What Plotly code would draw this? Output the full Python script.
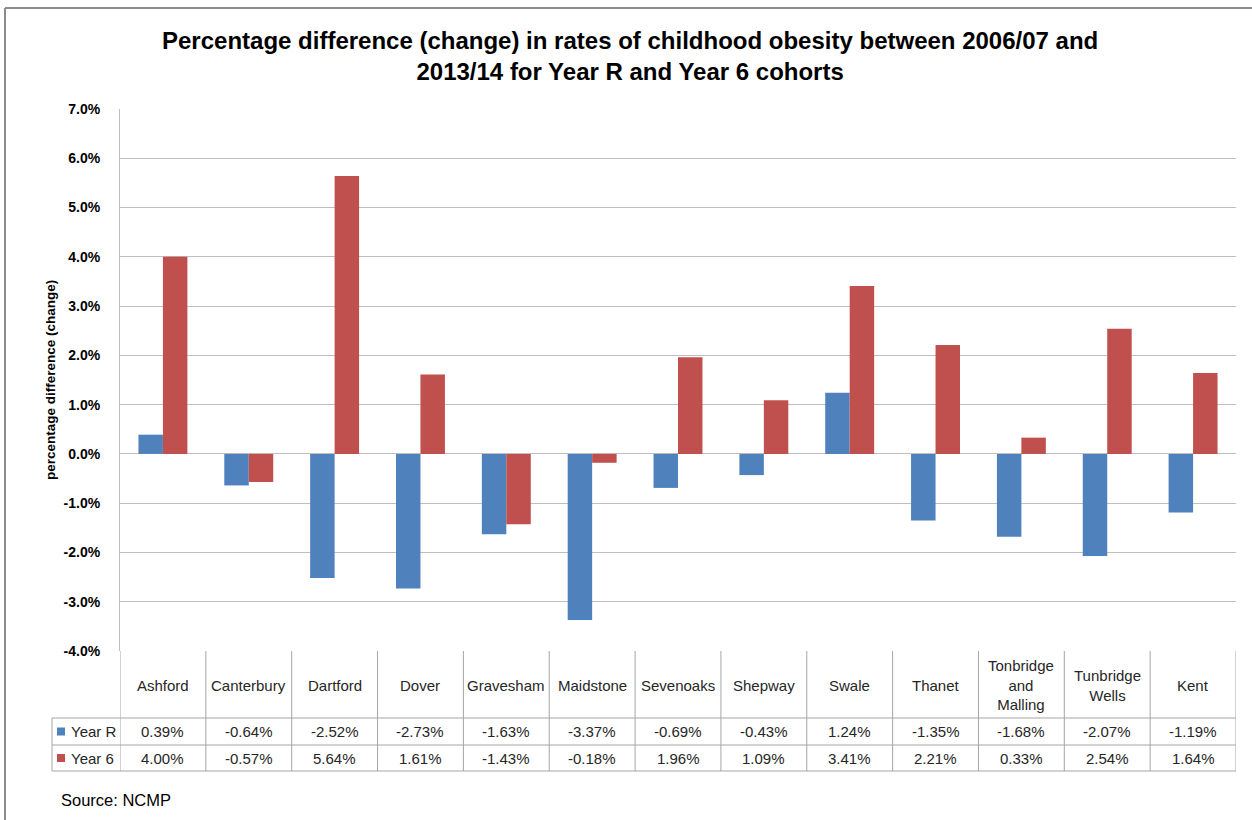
import plotly.graph_objects as go

# Districts and the change in obesity rate (percentage points), 2006/07 -> 2013/14
districts = ["Ashford", "Canterbury", "Dartford", "Dover", "Gravesham", "Maidstone",
             "Sevenoaks", "Shepway", "Swale", "Thanet", "Tonbridge and Malling",
             "Tunbridge Wells", "Kent"]
district_labels = ["Ashford", "Canterbury", "Dartford", "Dover", "Gravesham", "Maidstone",
                   "Sevenoaks", "Shepway", "Swale", "Thanet", "Tonbridge<br>and<br>Malling",
                   "Tunbridge<br>Wells", "Kent"]
year_r = [0.39, -0.64, -2.52, -2.73, -1.63, -3.37, -0.69, -0.43, 1.24, -1.35, -1.68, -2.07, -1.19]
year_6 = [4.00, -0.57, 5.64, 1.61, -1.43, -0.18, 1.96, 1.09, 3.41, 2.21, 0.33, 2.54, 1.64]
series_names = ["Year R", "Year 6"]
y_ticks = [-4, -3, -2, -1, 0, 1, 2, 3, 4, 5, 6, 7]

BLUE = "#4F81BD"
RED = "#C0504D"
GRID = "#BFBFBF"
TXT = "#262626"
FONT = "Liberation Sans"

W, H = 1252, 820
L, R, T, B = 120, 16, 109, 169
PH = H - T - B
PW = W - L - R


def py(px_y):
    return (H - B - px_y) / PH


def px(px_x):
    return (px_x - L) / PW


n = len(districts)
xs = list(range(n))

fig = go.Figure()
fig.add_trace(go.Bar(x=xs, y=year_r, name=series_names[0], marker_color=BLUE,
                     marker_line_width=0))
fig.add_trace(go.Bar(x=xs, y=year_6, name=series_names[1], marker_color=RED,
                     marker_line_width=0))

shapes = []
annotations = []
line = dict(color="#A6A6A6", width=1)

# data table under the plot
y_head_top, y_head_bot, y_r1_bot, y_r2_bot = py(651), py(718), py(745), py(771)
for i in range(n + 1):
    shapes.append(dict(type="line", xref="x", yref="paper", x0=i - 0.5, x1=i - 0.5,
                       y0=y_head_top, y1=y_r2_bot, line=line))
for yy in (y_head_bot, y_r1_bot, y_r2_bot):
    shapes.append(dict(type="line", xref="paper", yref="paper", x0=px(52), x1=1,
                       y0=yy, y1=yy, line=line))
shapes.append(dict(type="line", xref="paper", yref="paper", x0=px(52), x1=px(52),
                   y0=y_head_bot, y1=y_r2_bot, line=line))

for i, lab in enumerate(district_labels):
    annotations.append(dict(x=i, y=py(685), xref="x", yref="paper", text=lab,
                            showarrow=False, font=dict(family=FONT, size=15, color=TXT),
                            align="center", yanchor="middle"))
for row_y, vals in ((py(731.5), year_r), (py(758), year_6)):
    for i, v in enumerate(vals):
        annotations.append(dict(x=i, y=row_y, xref="x", yref="paper", text=f"{v:.2f}%",
                                showarrow=False, font=dict(family=FONT, size=15, color=TXT),
                                yanchor="middle"))

# legend keys inside the table
for row_y, name, col in ((py(731.5), series_names[0], BLUE), (py(758), series_names[1], RED)):
    shapes.append(dict(type="rect", xref="paper", yref="paper", x0=px(57), x1=px(65),
                       y0=row_y - 4 / PH, y1=row_y + 4 / PH, fillcolor=col, line_width=0))
    annotations.append(dict(x=px(69), y=row_y, xref="paper", yref="paper", text=name,
                            showarrow=False, xanchor="left", yanchor="middle",
                            font=dict(family=FONT, size=15, color=TXT)))

# outer chart frame
shapes.append(dict(type="line", xref="paper", yref="paper", x0=px(5), x1=px(5),
                   y0=py(8), y1=py(W), line=dict(color="#8C8C8C", width=2)))
shapes.append(dict(type="line", xref="paper", yref="paper", x0=px(5), x1=px(W + 10),
                   y0=py(8), y1=py(8), line=dict(color="#8C8C8C", width=2)))

# title, axis title and source
annotations.append(dict(x=px(630), y=py(56), xref="paper", yref="paper",
                        text="<b>Percentage difference (change) in rates of childhood obesity between 2006/07 and<br>2013/14 for Year R and Year 6 cohorts</b>",
                        showarrow=False, xanchor="center", yanchor="middle",
                        font=dict(family=FONT, size=24, color="#000000")))
annotations.append(dict(x=px(50), y=py(380), xref="paper", yref="paper",
                        text="<b>percentage difference (change)</b>", textangle=-90,
                        showarrow=False, xanchor="center", yanchor="middle",
                        font=dict(family=FONT, size=13.5, color="#000000")))
annotations.append(dict(x=px(59), y=py(800), xref="paper", yref="paper",
                        text="Source: NCMP", showarrow=False, xanchor="left", yanchor="middle",
                        font=dict(family=FONT, size=16.5, color="#000000")))

fig.update_layout(
    width=W, height=H,
    margin=dict(l=L, r=R, t=T, b=B),
    paper_bgcolor="white", plot_bgcolor="white",
    barmode="group", bargap=0.43, bargroupgap=0,
    showlegend=False,
    shapes=shapes, annotations=annotations,
    xaxis=dict(range=[-0.5, n - 0.5], showticklabels=False, showgrid=False,
               zeroline=False, showline=False, ticks=""),
    yaxis=dict(range=[-4, 7], tickvals=y_ticks, ticktext=[f"{v:.1f}%" for v in y_ticks],
               showgrid=True, gridcolor=GRID, gridwidth=1, zeroline=False,
               showline=True, linecolor=GRID, linewidth=1, ticks="",
               ticklabelstandoff=16,
               tickfont=dict(family=FONT, size=14, color="#000000", weight="bold")),
)

fig.write_html("out.html")
